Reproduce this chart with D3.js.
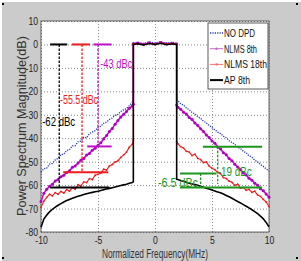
<!DOCTYPE html>
<html><head><meta charset="utf-8">
<script src="https://cdn.jsdelivr.net/npm/d3@7"></script>
<style>
body{margin:0;background:#fff;}
svg text{font-family:"Liberation Sans",Arial,sans-serif;}
</style></head><body>
<svg id="chart" width="301" height="261"></svg>
<script>
// frequency grid (MHz), band edges listed twice for the vertical skirts
var freq=[-10,-9.75,-9.5,-9.25,-9,-8.75,-8.5,-8.25,-8,-7.75,-7.5,-7.25,-7,-6.75,-6.5,-6.25,-6,-5.75,-5.5,-5.25,-5,-4.75,-4.5,-4.25,-4,-3.75,-3.5,-3.25,-3,-2.75,-2.5,-2.25,-2,-1.9,-1.9,-1.5,-1,-0.5,0,0.5,1,1.5,1.9,1.9,2,2.25,2.5,2.75,3,3.25,3.5,3.75,4,4.25,4.5,4.75,5,5.25,5.5,5.75,6,6.25,6.5,6.75,7,7.25,7.5,7.75,8,8.25,8.5,8.75,9,9.25,9.5,9.75,10];
var noDpd=[-54.5,-53,-52.8,-51,-50.8,-49.2,-48.6,-47,-46.8,-45.2,-44.9,-43.3,-43.2,-41.5,-41.2,-39.6,-39.8,-38,-37.4,-36.8,-35.4,-34.9,-33.6,-33.1,-32,-31.4,-30.2,-29.8,-28.6,-27.9,-27.4,-26.1,-24.8,-23.5,0.6,0.9,0.4,1.1,0.5,1.2,0.6,0.9,0.5,-23.5,-24,-25.3,-25.9,-27.1,-27.8,-29,-29.6,-30.9,-31.5,-32.8,-33.4,-34.6,-35.5,-36.4,-37.4,-38,-39.2,-39.8,-41.1,-41.8,-42.6,-43.8,-44.4,-45.6,-46.2,-47.5,-48.1,-49.4,-50,-51.2,-52,-53.1,-54];
var nlms8=[-67,-63.5,-61.8,-60.5,-59.6,-58.2,-57.6,-56.4,-55.8,-54.6,-53.9,-52.4,-51.8,-50.6,-49.4,-48.6,-47.2,-46.5,-45.1,-44.3,-43,-41.9,-40.2,-38.8,-37.1,-35.8,-34,-32.4,-30.9,-29.8,-28.6,-27.2,-26.3,-25.5,0.3,0.6,0.1,0.7,0.2,0.8,0.3,0.5,0.2,-25.8,-26.8,-27.6,-28.9,-29.7,-31.2,-32,-33.5,-34.6,-36,-37.1,-38.6,-39.7,-41.2,-42.1,-43.7,-44.6,-46.2,-47.1,-48.7,-49.6,-51.1,-52.3,-53.4,-54.8,-55.7,-57.1,-57.9,-59.2,-60.1,-61.5,-62.4,-63.8,-65.2];
var nlms18=[-69.5,-66.8,-65.2,-63.9,-64.6,-63.2,-63.9,-62.7,-63.4,-61.9,-62.6,-61.1,-61.8,-59.8,-60.4,-58.6,-58.9,-57.2,-57.6,-55.8,-55.4,-54.9,-53.2,-53.6,-51.8,-51.2,-50.1,-49.6,-48.2,-47.1,-45.9,-43.8,-42.6,-41,0.2,0.4,-0.1,0.5,0,0.6,0.1,0.4,0,-41.5,-42.3,-43.6,-44.2,-45.6,-45.9,-47.4,-46.8,-48.6,-49.1,-50.4,-50.1,-51.9,-52.8,-53.4,-54.6,-55.1,-56.8,-57.2,-58.3,-58.8,-60.1,-59.6,-61.3,-61,-62.2,-61.8,-63.1,-62.6,-64.2,-64.8,-66.1,-67.2,-69.1];
var ap8=[-78,-74.5,-72.8,-71.4,-70.3,-69.4,-68.6,-67.9,-67.2,-66.6,-66.1,-65.6,-65.2,-64.8,-64.4,-64,-63.7,-63.4,-63.1,-62.8,-62.6,-62.3,-62,-61.7,-61.4,-61.1,-60.8,-60.5,-60.2,-59.9,-59.6,-59.2,-58.9,-58.6,0,0.3,-0.2,0.4,0,0.5,-0.1,0.3,0,-57.5,-57.6,-58,-58.4,-58.8,-59.2,-59.5,-59.8,-60.1,-60.5,-60.9,-61.3,-61.7,-62.1,-62.5,-62.9,-63.3,-63.8,-64.4,-65,-65.6,-66.3,-67,-67.6,-68.3,-69,-69.7,-70.5,-71.3,-72.2,-73.2,-74.4,-75.9,-77.8];
var seriesNames=["NO DPD","NLMS 8th","NLMS 18th","AP 8th"];
var xTicks=[-10,-5,0,5,10];
var yTicks=[10,0,-10,-20,-30,-40,-50,-60,-70,-80];
// annotations in data units
var bars=[[-9.2,-7.7,0,"#000"],[-7.3,-5.7,0,"#ee1c1c"],[-5.4,-3.8,0,"#c010c8"],
          [-5.95,-3.8,-43.5,"#c010c8"],[-8.05,-4.1,-54.5,"#ee1c1c"],[-9.2,-4.0,-61,"#000"],
          [4.2,9.4,-43.6,"#1e961e"],[2.2,5.4,-55,"#1e961e"],[2.2,9.4,-61,"#1e961e"]];
var drops=[[-8.4,0,-61,"#000"],[-6.4,0,-54.5,"#ee1c1c"],[-5.0,0,-43.5,"#c010c8"],[5.5,-43.6,-59.5,"#1e961e"],[4.0,-55,-61,"#1e961e"]];
var notes=[["-62 dBc",-9.9,-34.8,"#000",33],["-55.5 dBc",-8.33,-25.4,"#ee1c1c",38],["-43 dBc",-4.8,-10.1,"#c010c8",32],["-19 dBc",5.5,-56.1,"#1e961e",34],["-6.5 dBc",0.26,-60.8,"#1e961e",40]];

var svg=d3.select("#chart");
var x=d3.scaleLinear().domain([-10,10]).range([41,269]);
var y=d3.scaleLinear().domain([-80,10]).range([232,21]);

function squeeze(sel,f){
  sel.each(function(){
    var w=this.getComputedTextLength();
    d3.select(this).attr("textLength",w*f).attr("lengthAdjust","spacingAndGlyphs");
  });
}

svg.append("rect").attr("x",2).attr("y",2).attr("width",299).attr("height",259).attr("fill","#cbcbcb");
svg.append("rect").attr("x",41).attr("y",21).attr("width",228).attr("height",211).attr("fill","#fff");

var gx=svg.append("g").attr("transform","translate(0,232)")
  .call(d3.axisBottom(x).tickValues(xTicks).tickSize(-211).tickPadding(4).tickFormat(function(d){return String(d);}));
var gy=svg.append("g").attr("transform","translate(41,0)")
  .call(d3.axisLeft(y).tickValues(yTicks).tickSize(-228).tickPadding(3).tickFormat(function(d){return String(d);}));
[gx,gy].forEach(function(g){
  g.select(".domain").remove();
  g.selectAll(".tick line").attr("stroke","#8a8a8a").attr("stroke-dasharray","1,2");
  g.selectAll(".tick text").attr("fill","#222").style("font-size","11px").call(squeeze,0.78);
});
svg.append("rect").attr("x",41).attr("y",21).attr("width",228).attr("height",211)
  .attr("fill","none").attr("stroke","#444").attr("stroke-width",0.8);

function pts(v){return freq.map(function(f,i){return [f,v[i]];});}
var line=d3.line().x(function(d){return x(d[0]);}).y(function(d){return y(d[1]);});

svg.append("path").attr("d",line(pts(noDpd))).attr("fill","none")
  .attr("stroke","#2434c4").attr("stroke-width",1.3).attr("stroke-dasharray","1.2,1.2");
svg.append("path").attr("d",line(pts(nlms8))).attr("fill","none")
  .attr("stroke","#c010c8").attr("stroke-width",1.6);
svg.selectAll(".m8").data(pts(nlms8)).enter().append("circle")
  .attr("cx",function(d){return x(d[0]);}).attr("cy",function(d){return y(d[1]);})
  .attr("r",1.5).attr("fill","#b000c0");
svg.append("path").attr("d",line(pts(nlms18))).attr("fill","none")
  .attr("stroke","#ee1c1c").attr("stroke-width",1.1);
svg.selectAll(".m18").data(pts(nlms18)).enter().append("circle")
  .attr("cx",function(d){return x(d[0]);}).attr("cy",function(d){return y(d[1]);})
  .attr("r",0.9).attr("fill","#ee1c1c");
svg.append("path").attr("d",line(pts(ap8))).attr("fill","none")
  .attr("stroke","#000").attr("stroke-width",1.6);

bars.forEach(function(b){
  svg.append("line").attr("x1",x(b[0])).attr("x2",x(b[1])).attr("y1",y(b[2])).attr("y2",y(b[2]))
    .attr("stroke",b[3]).attr("stroke-width",2);
});
drops.forEach(function(d){
  svg.append("line").attr("x1",x(d[0])).attr("x2",x(d[0])).attr("y1",y(d[1])).attr("y2",y(d[2]))
    .attr("stroke",d[3]).attr("stroke-width",1.3).attr("stroke-dasharray","2.5,1.5");
});
notes.forEach(function(n){
  svg.append("text").attr("x",x(n[1])).attr("y",y(n[2])).attr("fill",n[3])
    .style("font-size","12px").attr("textLength",n[4]).attr("lengthAdjust","spacingAndGlyphs").text(n[0]);
});

// legend
var lg=svg.append("g");
lg.append("rect").attr("x",208).attr("y",23).attr("width",60).attr("height",66)
  .attr("fill","#fff").attr("stroke","#333").attr("stroke-width",0.8);
var lgStyle=[["#2434c4",1.3,"1.2,1.2"],["#c868d0",1,null],["#f07070",1,null],["#000",2,null]];
var lgWidth=[31,33,43,26];
seriesNames.forEach(function(name,i){
  var ly=33+i*15.7;
  var s=lgStyle[i];
  lg.append("line").attr("x1",210).attr("x2",223).attr("y1",ly).attr("y2",ly)
    .attr("stroke",s[0]).attr("stroke-width",s[1]).attr("stroke-dasharray",s[2]);
  if(i==1||i==2) lg.append("circle").attr("cx",216.5).attr("cy",ly).attr("r",1.2).attr("fill",s[0]);
  lg.append("text").attr("x",224).attr("y",ly+4).attr("fill","#111").style("font-size","11px")
    .attr("textLength",lgWidth[i]).attr("lengthAdjust","spacingAndGlyphs").text(name);
});

svg.append("text").attr("transform","translate(25.5,126) rotate(-90)").attr("text-anchor","middle")
  .attr("fill","#333").style("font-size","12px").attr("textLength",180).attr("lengthAdjust","spacingAndGlyphs")
  .text("Power Spectrum Magnitude(dB)");
svg.append("text").attr("x",155).attr("y",258).attr("text-anchor","middle")
  .attr("fill","#333").style("font-size","12px").attr("textLength",106).attr("lengthAdjust","spacingAndGlyphs")
  .text("Normalized Frequency(MHz)");

// corner handles
[[2,3],[296,3],[2,257],[296,257]].forEach(function(c){
  svg.append("rect").attr("x",c[0]).attr("y",c[1]).attr("width",2).attr("height",2).attr("fill","#000");
});
</script>
</body></html>
